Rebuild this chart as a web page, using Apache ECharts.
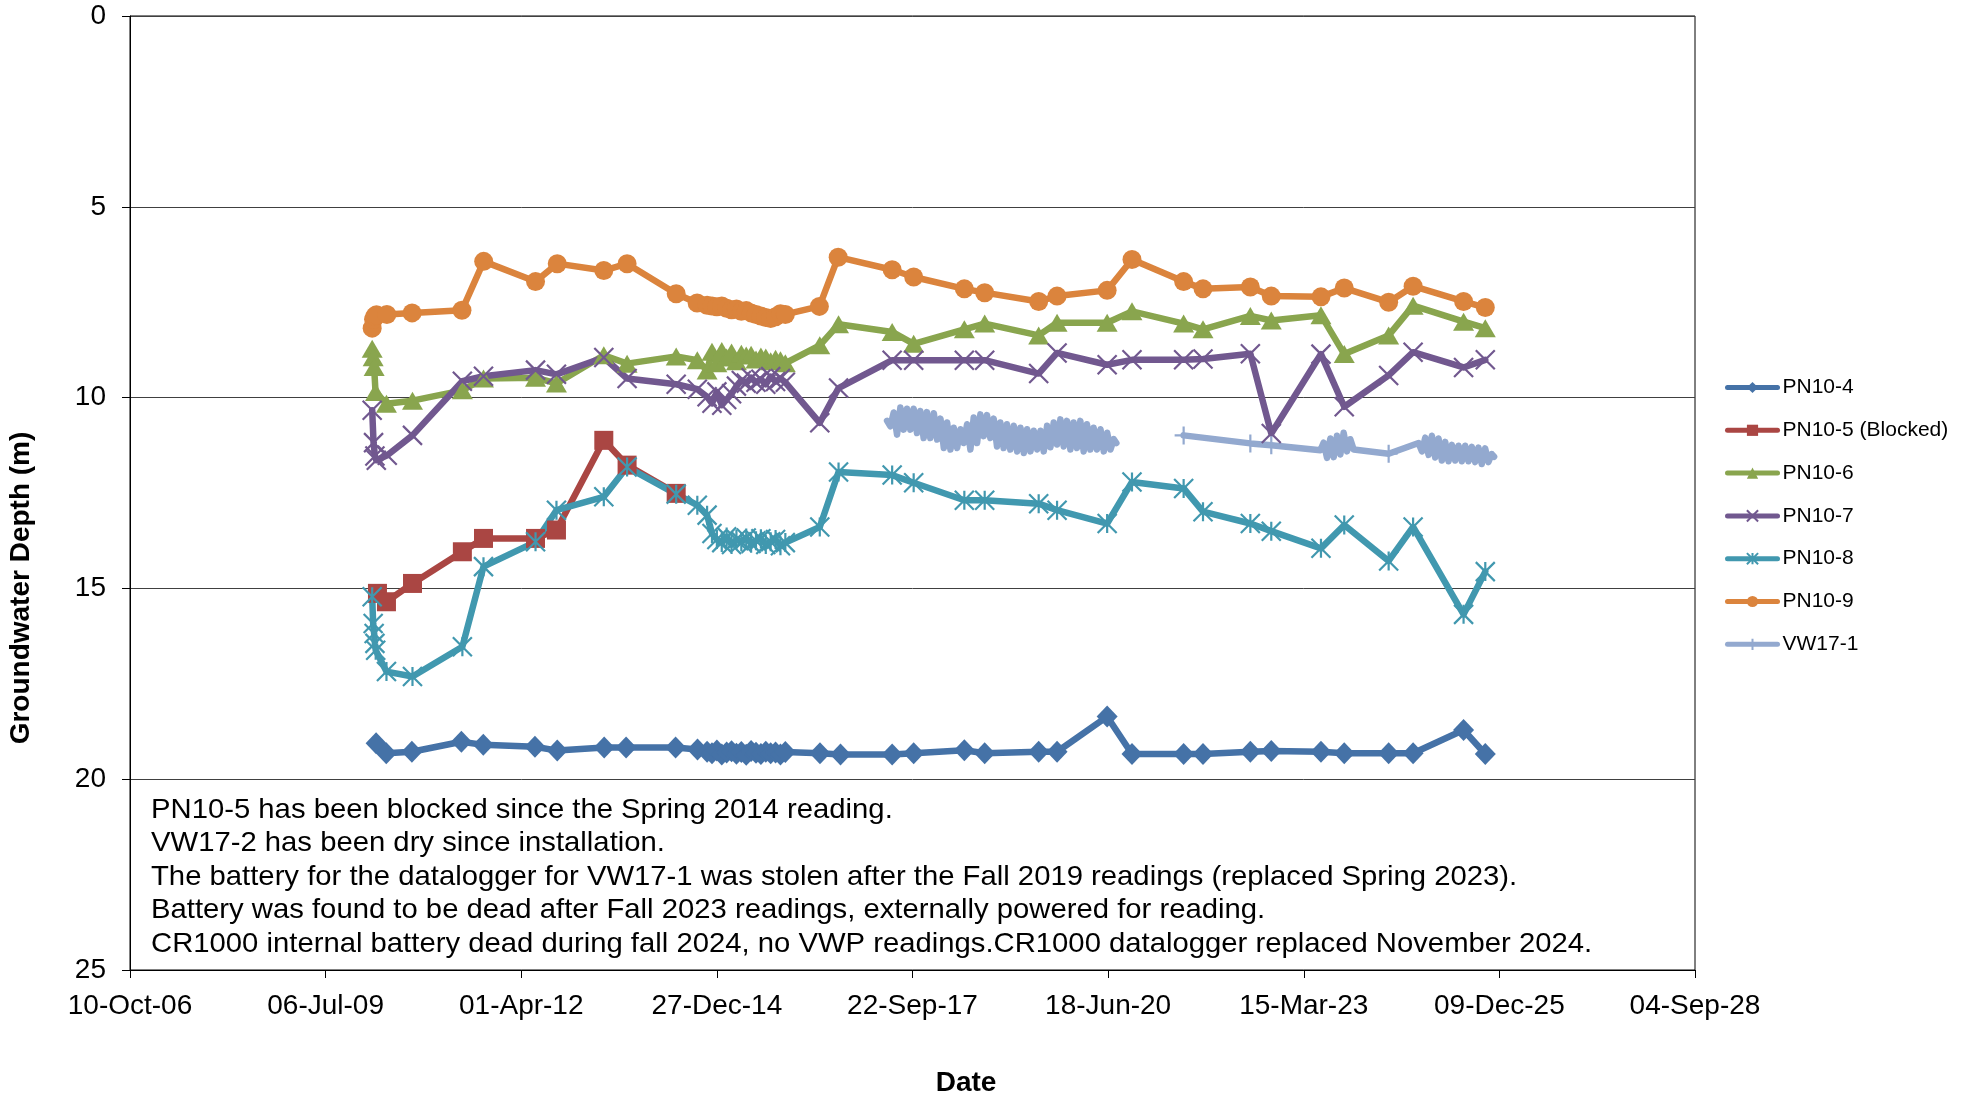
<!DOCTYPE html>
<html>
<head>
<meta charset="utf-8">
<script src="https://cdn.jsdelivr.net/npm/echarts@6/dist/echarts.min.js"></script>
<style>
  html, body { margin: 0; padding: 0; background: #fff; }
  #chart { width: 1970px; height: 1100px; }
</style>
</head>
<body>
<div id="chart"></div>
<script>
// ---------- DATA (dates are Excel serial day numbers, depth in m) ----------
const xTickLabels = ['10-Oct-06','06-Jul-09','01-Apr-12','27-Dec-14','22-Sep-17','18-Jun-20','15-Mar-23','09-Dec-25','04-Sep-28'];
const yTicks = [0, 5, 10, 15, 20, 25];

const seriesNames = ['PN10-4','PN10-5 (Blocked)','PN10-6','PN10-7','PN10-8','PN10-9','VW17-1'];
const xTitle = 'Date';
const yTitle = 'Groundwater Depth (m)';

// Dense manual readings Dec-2014 to Dec-2015
const clusterDates = [41950,41975,42000,42025,42050,42075,42100,42125,42150,42175,42200,42225,42250,42275,42300,42325,42350];
const pn104Cluster = [19.28,19.32,19.25,19.35,19.30,19.27,19.33,19.29,19.36,19.26,19.31,19.34,19.28,19.32,19.30,19.35,19.29];
const pn106Cluster = [9.29,8.80,9.10,8.78,8.95,8.82,9.05,8.85,8.90,8.88,9.00,8.92,8.95,9.05,8.98,9.02,9.10];
const pn107Cluster = [9.98,10.15,9.85,10.20,10.05,9.90,9.70,9.55,9.62,9.48,9.60,9.52,9.65,9.45,9.58,9.50,9.60];
const pn108Cluster = [13.08,13.56,13.72,13.80,13.65,13.85,13.72,13.78,13.68,13.82,13.75,13.70,13.85,13.78,13.72,13.88,13.80];
const pn109Cluster = [7.58,7.60,7.62,7.60,7.66,7.70,7.68,7.74,7.72,7.78,7.82,7.86,7.90,7.93,7.88,7.80,7.82];

const pn104 = [[40258,19.06],[40310,19.32],[40441,19.28],[40694,19.02],[40806,19.10],[41070,19.15],[41184,19.25],
  [41424,19.17],[41536,19.17],[41789,19.17],[41901,19.22],
  [42527,19.32],[42632,19.35],[42896,19.35],[43006,19.32],[43265,19.24],[43369,19.32],[43645,19.28],[43739,19.28],
  [43995,18.36],[44122,19.34],[44386,19.34],[44485,19.34],[44727,19.28],[44834,19.26],[45088,19.28],[45207,19.32],
  [45434,19.32],[45559,19.32],[45817,18.71],[45928,19.34]];

const pn105 = [[40265,15.13],[40311,15.35],[40444,14.87],[40699,14.04],[40807,13.69],[41073,13.69],[41180,13.47],
  [41422,11.12],[41541,11.77],[41792,12.51]];

const pn106 = [[40238,8.72],[40243,8.94],[40248,9.20],[40255,9.85],[40311,10.16],[40444,10.08],[40699,9.81],[40807,9.50],
  [41073,9.48],[41180,9.63],[41422,8.89],[41541,9.11],[41792,8.92],[41900,9.02],
  [42526,8.63],[42622,8.08],[42896,8.28],[43006,8.59],[43265,8.21],[43369,8.06],[43645,8.37],[43739,8.04],
  [43995,8.04],[44122,7.74],[44386,8.06],[44485,8.21],[44727,7.86],[44834,7.98],[45088,7.84],[45207,8.86],
  [45434,8.37],[45559,7.59],[45817,8.01],[45928,8.18]];

const pn107 = [[40238,10.33],[40245,11.18],[40252,11.53],[40259,11.64],[40315,11.51],[40444,10.99],[40699,9.57],[40807,9.44],
  [41073,9.28],[41180,9.39],[41422,8.95],[41541,9.50],[41792,9.65],[41900,9.78],
  [42526,10.66],[42622,9.75],[42896,9.02],[43006,9.02],[43265,9.02],[43369,9.02],[43645,9.37],[43739,8.83],
  [43995,9.14],[44122,9.01],[44386,9.01],[44485,8.99],[44727,8.85],[44834,10.94],[45088,8.86],[45207,10.24],
  [45434,9.42],[45559,8.81],[45817,9.21],[45928,9.01]];

const pn108 = [[40238,15.22],[40243,15.92],[40248,16.18],[40252,16.44],[40256,16.62],[40311,17.18],[40444,17.31],[40699,16.53],
  [40807,14.43],[41073,13.78],[41180,12.95],[41422,12.60],[41541,11.82],[41792,12.53],[41900,12.82],
  [42526,13.39],[42622,11.95],[42896,12.03],[43006,12.23],[43265,12.69],[43369,12.69],[43645,12.78],[43739,12.95],
  [43995,13.30],[44122,12.21],[44386,12.38],[44485,12.99],[44727,13.30],[44834,13.50],[45088,13.95],[45207,13.34],
  [45434,14.28],[45559,13.39],[45817,15.68],[45928,14.56]];

const pn109 = [[40238,8.18],[40245,7.95],[40252,7.87],[40260,7.83],[40313,7.82],[40442,7.78],[40697,7.71],[40808,6.43],
  [41073,6.96],[41184,6.49],[41422,6.67],[41541,6.49],[41792,7.28],[41899,7.52],
  [42524,7.61],[42620,6.32],[42896,6.65],[43006,6.84],[43265,7.15],[43369,7.25],[43645,7.48],[43739,7.34],
  [43995,7.19],[44122,6.38],[44386,6.96],[44485,7.15],[44727,7.10],[44834,7.34],[45088,7.36],[45207,7.13],
  [45434,7.50],[45559,7.08],[45817,7.48],[45928,7.64]];

const vwLogger2017 = [[42870,10.61],[42887,10.75],[42904,10.39],[42921,10.97],[42938,10.26],[42955,10.84],[42972,10.29],[42989,10.84],
  [43006,10.29],[43023,10.93],[43040,10.35],[43057,11.06],[43074,10.38],[43091,11.06],[43109,10.41],[43126,11.10],
  [43143,10.55],[43160,11.32],[43177,10.65],[43194,11.36],[43211,10.79],[43228,11.32],[43245,10.83],[43262,11.19],
  [43279,10.70],[43296,11.36],[43313,10.52],[43330,11.19],[43347,10.44],[43364,11.01],[43381,10.46],[43398,11.06],
  [43415,10.55],[43432,11.28],[43449,10.65],[43466,11.32],[43483,10.70],[43500,11.36],[43518,10.74],[43535,11.41],
  [43552,10.79],[43569,11.45],[43586,10.83],[43603,11.41],[43620,10.87],[43637,11.36],[43654,10.87],[43671,11.41],
  [43688,10.74],[43705,11.30],[43722,10.65],[43739,11.23],[43756,10.57],[43773,11.28],[43790,10.61],[43807,11.36],
  [43824,10.65],[43841,11.32],[43858,10.61],[43875,11.41],[43892,10.70],[43909,11.36],[43926,10.79],[43943,11.36],
  [43961,10.83],[43978,11.41],[43995,10.92],[44012,11.36],[44029,11.09],[44042,11.19]];
const vwManual = [[44386,10.99],[44727,11.20],[44834,11.25],[45434,11.47]];
const vwLogger2023 = [[45085,11.38],[45102,11.18],[45119,11.58],[45136,11.07],[45153,11.56],[45170,11.00],[45187,11.49],
  [45204,10.92],[45221,11.41],[45238,11.09],[45255,11.36]];
const vwLogger2024 = [[45587,11.19],[45604,11.41],[45621,11.05],[45638,11.50],[45655,11.00],[45672,11.57],[45689,11.07],
  [45706,11.65],[45723,11.16],[45740,11.67],[45757,11.24],[45774,11.65],[45791,11.26],[45808,11.67],[45825,11.26],
  [45842,11.67],[45859,11.29],[45876,11.69],[45893,11.31],[45910,11.74],[45927,11.33],[45944,11.69],[45961,11.48],[45973,11.55]];

const notes = [
  'PN10-5 has been blocked since the Spring 2014 reading.',
  'VW17-2 has been dry since installation.',
  'The battery for the datalogger for VW17-1 was stolen after the Fall 2019 readings (replaced Spring 2023).',
  'Battery was found to be dead after Fall 2023 readings, externally powered for reading.',
  'CR1000 internal battery dead during fall 2024, no VWP readings.CR1000 datalogger replaced November 2024.'
];

// ---------- BUILD ----------
function withCluster(manual, clusterVals) {
  const pts = manual.concat(clusterDates.map((d, i) => [d, clusterVals[i]]));
  return pts.sort((a, b) => a[0] - b[0]);
}
const gapDate = 44200;
const vwData = []
  .concat(vwLogger2017.map(p => ({ value: p, symbol: 'none' })))
  .concat([[gapDate, '-']])
  .concat(vwManual.filter(p => p[0] < 45000).map(p => ({ value: p })))
  .concat(vwLogger2023.map(p => ({ value: p, symbol: 'none' })))
  .concat(vwManual.filter(p => p[0] > 45000).map(p => ({ value: p })))
  .concat(vwLogger2024.map(p => ({ value: p, symbol: 'none' })));

const FONT = 'Liberation Sans, Arial, sans-serif';
const colors = ['#4572A7','#AA4643','#89A54E','#71588F','#4198AF','#DB843D','#93A9CF'];
const symX = 'path://M0,0 L10,10 M10,0 L0,10';
const symStar = 'path://M0,0 L10,10 M10,0 L0,10 M5,0 L5,10';
const symPlus = 'path://M5,0 L5,10 M0,5 L10,5';

function mkSeries(i, data, symbol, size, stroke) {
  return {
    name: seriesNames[i],
    type: 'line',
    data: data,
    symbol: symbol,
    symbolSize: size,
    showAllSymbol: true,
    connectNulls: false,
    color: colors[i],
    lineStyle: { width: 6.5, color: colors[i], cap: 'round', join: 'round' },
    itemStyle: stroke
      ? { color: colors[i], borderColor: colors[i], borderWidth: 2.2 }
      : { color: colors[i], borderWidth: 0 },
    emphasis: { disabled: true },
    animation: false
  };
}

const chart = echarts.init(document.getElementById('chart'), null, { renderer: 'canvas' });
chart.setOption({
  backgroundColor: '#ffffff',
  animation: false,
  textStyle: { fontFamily: FONT },
  grid: { left: 130, top: 16, right: 275, bottom: 130, show: true, borderColor: '#000', borderWidth: 1, backgroundColor: 'transparent' },
  legend: {
    orient: 'vertical',
    left: 1720,
    top: 372,
    itemWidth: 50,
    itemHeight: 14,
    itemGap: 21.8,
    lineStyle: { width: 5 },
    textStyle: { fontFamily: FONT, fontSize: 21, color: '#000' },
    data: seriesNames
  },
  xAxis: {
    type: 'value',
    min: 39000,
    max: 47000,
    interval: 1000,
    axisLine: { show: true, onZero: false, lineStyle: { color: '#000', width: 1 } },
    axisTick: { show: true, length: 8, lineStyle: { color: '#000' } },
    axisLabel: {
      margin: 22,
      fontFamily: FONT, fontSize: 28, color: '#000',
      formatter: v => xTickLabels[Math.round((v - 39000) / 1000)] || ''
    },
    splitLine: { show: false }
  },
  yAxis: {
    type: 'value',
    inverse: true,
    min: yTicks[0],
    max: yTicks[yTicks.length - 1],
    interval: 5,
    axisLine: { show: true, onZero: false, lineStyle: { color: '#000', width: 1 } },
    axisTick: { show: true, length: 8, lineStyle: { color: '#000' } },
    axisLabel: { margin: 24, fontFamily: FONT, fontSize: 28, color: '#000' },
    splitLine: { show: true, lineStyle: { color: '#404040', width: 1 } }
  },
  graphic: [
    {
      type: 'text',
      x: 151,
      y: 793,
      scaleX: 1.045,
      silent: true,
      style: {
        text: notes.join('\n'),
        font: '28px ' + FONT,
        fill: '#000',
        lineHeight: 33.6,
        verticalAlign: 'top'
      }
    },
    {
      type: 'text',
      x: 966,
      y: 1083,
      silent: true,
      style: { text: xTitle, font: 'bold 28px ' + FONT, fill: '#000', align: 'center', verticalAlign: 'middle' }
    },
    {
      type: 'text',
      x: 21,
      y: 588,
      rotation: Math.PI / 2,
      silent: true,
      style: { text: yTitle, font: 'bold 28px ' + FONT, fill: '#000', align: 'center', verticalAlign: 'middle' }
    }
  ],
  series: [
    mkSeries(0, withCluster(pn104, pn104Cluster), 'diamond', [21, 22], false),
    mkSeries(1, pn105, 'rect', 19, false),
    mkSeries(2, withCluster(pn106, pn106Cluster), 'triangle', [21, 18], false),
    mkSeries(3, withCluster(pn107, pn107Cluster), symX, 19, true),
    mkSeries(4, withCluster(pn108, pn108Cluster), symStar, 19, true),
    mkSeries(5, withCluster(pn109, pn109Cluster), 'circle', 19, false),
    mkSeries(6, vwData, symPlus, 18, true)
  ]
});
</script>
</body>
</html>
